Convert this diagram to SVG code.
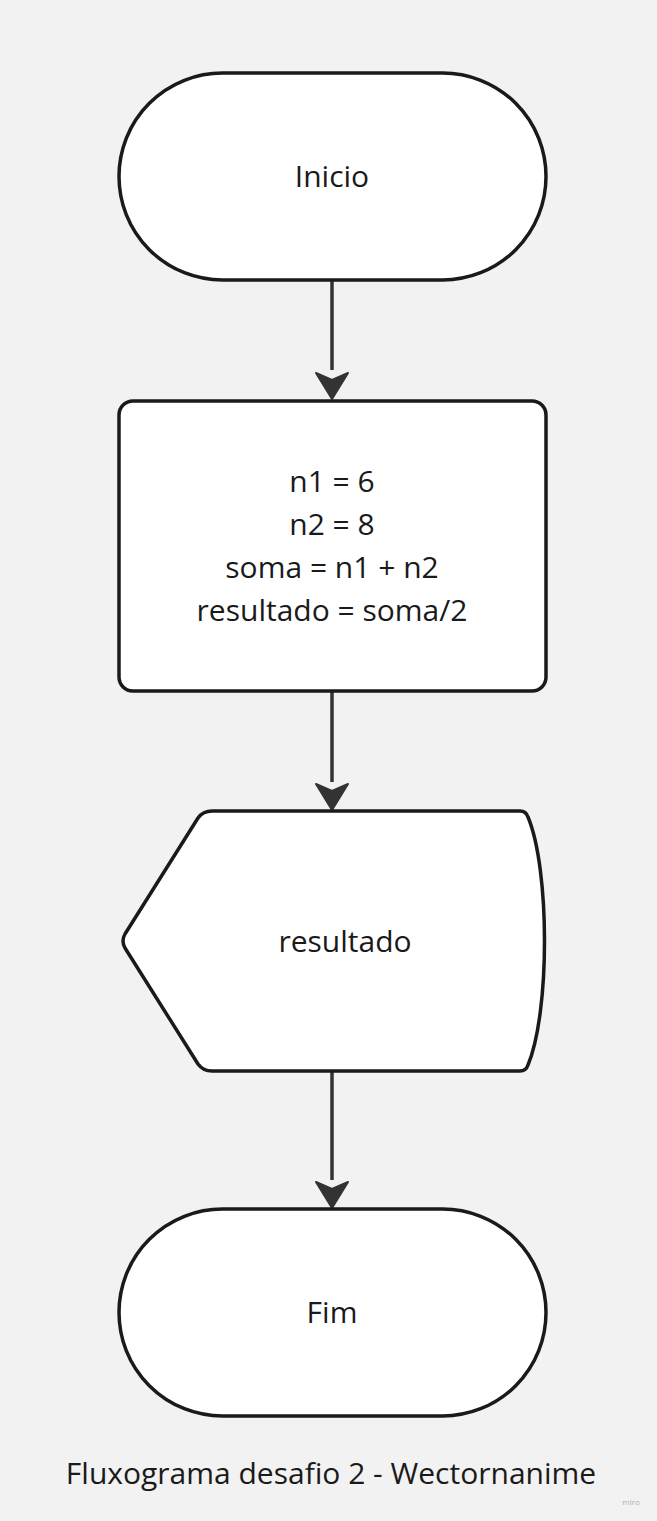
<svg xmlns="http://www.w3.org/2000/svg" width="657" height="1521" viewBox="0 0 657 1521">
<style>
.shape{fill:#ffffff;stroke:#1a1a1a;stroke-width:3.5;stroke-linejoin:round}
.lbl{font-family:"Open Sans","Noto Sans",sans-serif;font-size:30px;fill:#1a1a1a;text-anchor:middle}
.conn{stroke:#333333;stroke-width:3.5;fill:none}
.head{fill:#333333;stroke:#333333;stroke-width:2;stroke-linejoin:round}
</style>
<rect width="657" height="1521" fill="#f2f2f2"/>
<g id="connectors">
<line class="conn" x1="332" y1="280" x2="332" y2="370"/>
<path class="head" d="M316 373 L332 399 L348 373 L332 380 Z"/>
<line class="conn" x1="332" y1="691" x2="332" y2="782"/>
<path class="head" d="M316 784 L332 810 L348 784 L332 791 Z"/>
<line class="conn" x1="332" y1="1071" x2="332" y2="1180"/>
<path class="head" d="M316 1182 L332 1208 L348 1182 L332 1189 Z"/>
</g>
<g id="inicio">
<rect class="shape" x="119" y="73" width="427" height="207" rx="103.5"/>
<text class="lbl" x="332" y="187">Inicio</text>
</g>
<g id="process">
<rect class="shape" x="119" y="401" width="427" height="290" rx="14"/>
<text class="lbl" x="332" y="492">n1 = 6</text>
<text class="lbl" x="332" y="535">n2 = 8</text>
<text class="lbl" x="332" y="578">soma = n1 + n2</text>
<text class="lbl" x="332" y="621">resultado = soma/2</text>
</g>
<g id="display">
<path class="shape" d="M212 811 L520 811 Q526 811 528 817 C550 870 550 1012 528 1065 Q526 1071 520 1071 L212 1071 Q203 1071 198 1064 L125 948 Q121 941 125 934 L198 818 Q203 811 212 811 Z"/>
<text class="lbl" x="345" y="952">resultado</text>
</g>
<g id="fim">
<rect class="shape" x="119" y="1209" width="427" height="207" rx="103.5"/>
<text class="lbl" x="332" y="1323">Fim</text>
</g>
<text class="lbl" x="331" y="1484">Fluxograma desafio 2 - Wectornanime</text>
<text x="631" y="1505" font-family="'Open Sans','Noto Sans',sans-serif" font-size="8" fill="#b0b0b0" text-anchor="middle">miro</text>
</svg>
